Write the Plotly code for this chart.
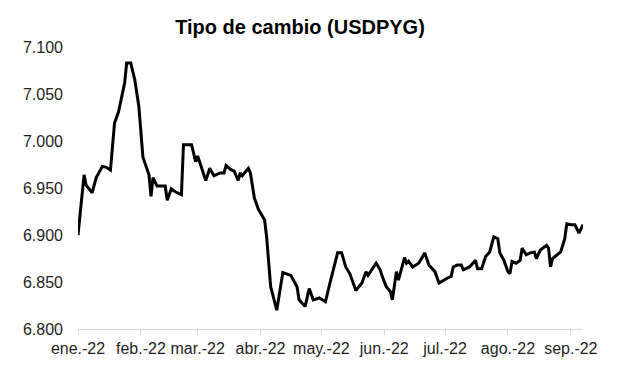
import plotly.graph_objects as go

dates = [
    "2022-01-01", "2022-01-04", "2022-01-05", "2022-01-08", "2022-01-10", "2022-01-13",
    "2022-01-15", "2022-01-17", "2022-01-18", "2022-01-19", "2022-01-21", "2022-01-24",
    "2022-01-25", "2022-01-27", "2022-01-29", "2022-01-31", "2022-02-02", "2022-02-05",
    "2022-02-06", "2022-02-07", "2022-02-09", "2022-02-11", "2022-02-13", "2022-02-14",
    "2022-02-16", "2022-02-18", "2022-02-21", "2022-02-22", "2022-02-26", "2022-02-28",
    "2022-03-01", "2022-03-05", "2022-03-07", "2022-03-09", "2022-03-12", "2022-03-14",
    "2022-03-15", "2022-03-17", "2022-03-19", "2022-03-21", "2022-03-22", "2022-03-23",
    "2022-03-26", "2022-03-27", "2022-03-29", "2022-03-31", "2022-04-03", "2022-04-04",
    "2022-04-06", "2022-04-09", "2022-04-12", "2022-04-16", "2022-04-19", "2022-04-20",
    "2022-04-23", "2022-04-25", "2022-04-27", "2022-04-30", "2022-05-03", "2022-05-05",
    "2022-05-07", "2022-05-09", "2022-05-11", "2022-05-13", "2022-05-15", "2022-05-18",
    "2022-05-21", "2022-05-23", "2022-05-24", "2022-05-28", "2022-05-30", "2022-05-31",
    "2022-06-02", "2022-06-04", "2022-06-05", "2022-06-07", "2022-06-08", "2022-06-11",
    "2022-06-12", "2022-06-13", "2022-06-15", "2022-06-18", "2022-06-21", "2022-06-23",
    "2022-06-26", "2022-06-28", "2022-07-02", "2022-07-04", "2022-07-05", "2022-07-07",
    "2022-07-09", "2022-07-10", "2022-07-13", "2022-07-16", "2022-07-17", "2022-07-19",
    "2022-07-21", "2022-07-23", "2022-07-25", "2022-07-27", "2022-07-28", "2022-07-30",
    "2022-08-01", "2022-08-02", "2022-08-03", "2022-08-05", "2022-08-07", "2022-08-08",
    "2022-08-10", "2022-08-12", "2022-08-14", "2022-08-15", "2022-08-17", "2022-08-20",
    "2022-08-21", "2022-08-22", "2022-08-23", "2022-08-26", "2022-08-27", "2022-08-29",
    "2022-08-30", "2022-09-01", "2022-09-03", "2022-09-05", "2022-09-07",
]

usdpyg = [
    6.900, 6.964, 6.953, 6.945, 6.961, 6.973,
    6.972, 6.969, 6.994, 7.019, 7.031, 7.062,
    7.083, 7.083, 7.065, 7.037, 6.983, 6.964,
    6.941, 6.961, 6.952, 6.952, 6.952, 6.937,
    6.949, 6.946, 6.943, 6.996, 6.996, 6.978,
    6.984, 6.958, 6.971, 6.963, 6.966, 6.966,
    6.974, 6.970, 6.968, 6.958, 6.966, 6.963,
    6.971, 6.966, 6.939, 6.927, 6.916, 6.898,
    6.845, 6.820, 6.860, 6.857, 6.845, 6.831,
    6.824, 6.843, 6.831, 6.833, 6.829, 6.847,
    6.863, 6.881, 6.881, 6.866, 6.859, 6.841,
    6.849, 6.861, 6.857, 6.870, 6.863, 6.856,
    6.845, 6.840, 6.831, 6.861, 6.852, 6.876,
    6.870, 6.872, 6.866, 6.870, 6.881, 6.868,
    6.861, 6.849, 6.854, 6.856, 6.866, 6.868,
    6.868, 6.863, 6.866, 6.873, 6.864, 6.864,
    6.877, 6.882, 6.898, 6.896, 6.881, 6.873,
    6.861, 6.859, 6.872, 6.870, 6.873, 6.886,
    6.879, 6.881, 6.882, 6.875, 6.884, 6.889,
    6.886, 6.866, 6.875, 6.881, 6.882, 6.896,
    6.912, 6.911, 6.911, 6.902, 6.911,
]

month_ticks = ["2022-01-01", "2022-02-01", "2022-03-01", "2022-04-01", "2022-05-01",
               "2022-06-01", "2022-07-01", "2022-08-01", "2022-09-01"]
month_labels = ["ene.-22", "feb.-22", "mar.-22", "abr.-22", "may.-22",
                "jun.-22", "jul.-22", "ago.-22", "sep.-22"]
y_ticks = [6.80, 6.85, 6.90, 6.95, 7.00, 7.05, 7.10]

fig = go.Figure()
fig.add_trace(go.Scatter(
    x=dates, y=usdpyg, mode="lines",
    line=dict(color="black", width=3),
    showlegend=False,
))

W, H = 601, 361  # page body adds an 8px margin around the figure
font = "Liberation Sans, Arial, sans-serif"
fig.update_layout(
    width=W, height=H,
    margin=dict(l=70, r=19, t=39, b=39),
    paper_bgcolor="white", plot_bgcolor="white",
    title=dict(text="<b>Tipo de cambio (USDPYG)</b>", x=292 / W, xanchor="center",
               y=1 - 19 / H, yanchor="middle", font=dict(family=font, size=20, color="black")),
    font=dict(family=font, size=16, color="#1f1f1f"),
)
fig.update_xaxes(
    type="date", range=["2022-01-01", "2022-09-07"],
    tickvals=month_ticks, ticktext=month_labels,
    showgrid=False, zeroline=False,
    showline=True, linecolor="#d9d9d9", linewidth=1,
    ticks="outside", ticklen=5, tickcolor="#d9d9d9",
    tickfont=dict(family=font, size=16, color="#1f1f1f"),
)
fig.update_yaxes(
    range=[6.8, 7.1], tickvals=y_ticks, tickformat=".3f",
    showgrid=False, zeroline=False, showline=False,
    ticks="", ticklabelstandoff=14,
    tickfont=dict(family=font, size=16, color="#1f1f1f"),
)

fig.write_html("out.html")
